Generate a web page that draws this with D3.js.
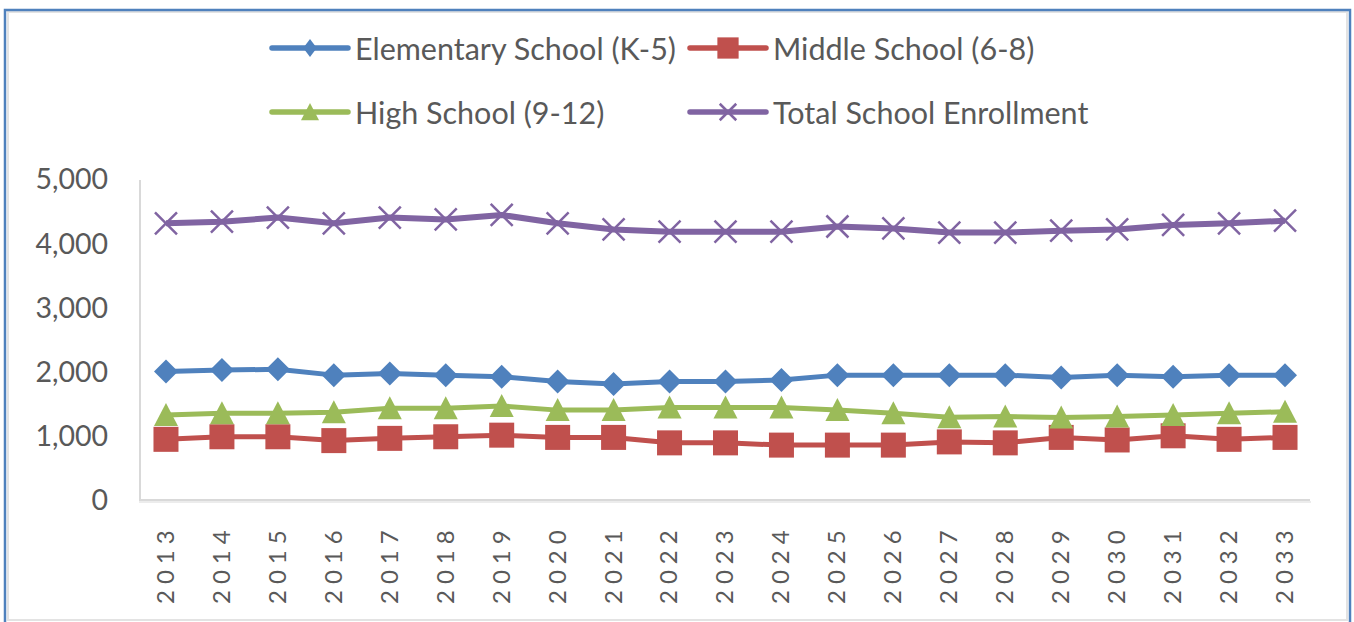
<!DOCTYPE html>
<html>
  <head>
    <meta http-equiv="Content-Type" content="text/html;charset=utf-8"/>
    <script src="https://d3js.org/d3.v7.min.js"></script>
    <style type="text/css">
    body { margin: 0; background: #fff; }
    .tick-label { fill: #595959; font-family: Lato, "Liberation Sans", sans-serif; }
    .legend-label { fill: #595959; font-family: Lato, "Liberation Sans", sans-serif; font-size: 30.5px; }
    </style>
  </head>
  <body>
    <script type="text/javascript">
    var years = ["2013","2014","2015","2016","2017","2018","2019","2020","2021","2022","2023",
                 "2024","2025","2026","2027","2028","2029","2030","2031","2032","2033"];
    var elementary = [2000,2025,2035,1945,1970,1945,1920,1845,1805,1845,1845,1870,1945,1945,1945,1945,1910,1945,1920,1945,1945];
    var middle     = [945,985,985,925,960,985,1010,975,975,890,890,855,855,855,905,890,975,935,1000,945,975];
    var high       = [1325,1350,1350,1365,1430,1430,1465,1400,1400,1440,1440,1440,1400,1350,1290,1300,1285,1300,1325,1350,1375];
    var total      = [4310,4335,4400,4310,4400,4370,4440,4310,4215,4180,4180,4180,4260,4230,4165,4165,4195,4215,4285,4310,4350];
    var yTicks = [0, 1000, 2000, 3000, 4000, 5000];

    var seriesNames = ["Elementary School (K-5)", "Middle School (6-8)", "High School (9-12)", "Total School Enrollment"];
    var seriesValues = [elementary, middle, high, total];
    var seriesColors = ["#4f81bd", "#c0504d", "#9bbb59", "#8064a2"];
    var seriesMarkers = ["diamond", "square", "triangle", "cross"];

    var width = 1354, height = 622;
    var svg = d3.select("body").append("svg")
      .attr("width", width)
      .attr("height", height);

    // outer frame
    svg.append("rect").attr("x", 8).attr("y", 12).attr("width", 1339).attr("height", 608)
      .attr("fill", "none").attr("stroke", "#e3e3e3").attr("stroke-width", 2);
    svg.append("path").attr("d", "M5,622 V10 H1350 V622")
      .attr("fill", "none").attr("stroke", "#4f81bd").attr("stroke-width", 2.5);

    var x = d3.scalePoint().domain(years).range([138, 1313]).padding(0.5);
    var y = d3.scaleLinear().domain([0, 5000]).range([500, 179]);

    // axis lines
    svg.append("line").attr("x1", 140).attr("x2", 140).attr("y1", 180).attr("y2", 501)
      .attr("stroke", "#d9d9d9").attr("stroke-width", 2);
    svg.append("line").attr("x1", 139).attr("x2", 1311).attr("y1", 502).attr("y2", 502)
      .attr("stroke", "#ececec").attr("stroke-width", 2);
    svg.append("line").attr("x1", 139).attr("x2", 1310).attr("y1", 500).attr("y2", 500)
      .attr("stroke", "#d9d9d9").attr("stroke-width", 2);

    // y axis labels
    var yAxis = d3.axisLeft(y).tickValues(yTicks).tickSize(0).tickPadding(0)
      .tickFormat(d3.format(","));
    var gy = svg.append("g").attr("transform", "translate(108,0)").call(yAxis);
    gy.select(".domain").remove();
    gy.selectAll("text").attr("class", "tick-label").style("font-size", "28.5px").attr("dy", "0.35em");

    // x axis labels, rotated with wide spacing
    var xAxis = d3.axisBottom(x).tickSize(0);
    var gx = svg.append("g").attr("transform", "translate(0,500)").call(xAxis);
    gx.select(".domain").remove();
    gx.selectAll("text")
      .attr("class", "tick-label")
      .style("font-size", "24px")
      .style("letter-spacing", "6px")
      .attr("text-anchor", "start")
      .attr("dy", "0.35em")
      .attr("y", 0)
      .attr("transform", "translate(-1,104) rotate(-90)");

    function marker(g, type, color, cx, cy, k) {
      k = k || 1;
      if (type === "diamond") {
        var w = 12 * k * (k < 1 ? 0.75 : 1);
        g.append("path")
          .attr("d", "M" + cx + "," + (cy - 12 * k) + " L" + (cx + w) + "," + cy + " L" + cx + "," + (cy + 12 * k) + " L" + (cx - w) + "," + cy + "Z")
          .attr("fill", color);
      } else if (type === "square") {
        var h = 12.5 * k;
        g.append("rect").attr("x", cx - h).attr("y", cy - h).attr("width", 2 * h).attr("height", 2 * h)
          .attr("fill", color);
      } else if (type === "triangle") {
        g.append("path")
          .attr("d", "M" + cx + "," + (cy - 12 * k) + " L" + (cx + 12 * k) + "," + (cy + 11 * k) + " L" + (cx - 12 * k) + "," + (cy + 11 * k) + "Z")
          .attr("fill", color);
      } else {
        var r = 11 * k;
        g.append("path")
          .attr("d", "M" + (cx - r) + "," + (cy - r) + " L" + (cx + r) + "," + (cy + r) + " M" + (cx + r) + "," + (cy - r) + " L" + (cx - r) + "," + (cy + r))
          .attr("stroke", color).attr("stroke-width", 2.5).attr("fill", "none");
      }
    }

    var line = d3.line()
      .x(function(d, i) { return x(years[i]); })
      .y(function(d) { return y(d); });

    seriesValues.forEach(function(vals, s) {
      var g = svg.append("g");
      g.append("path").datum(vals)
        .attr("d", line)
        .attr("fill", "none")
        .attr("stroke", seriesColors[s])
        .attr("stroke-width", s === 3 ? 6 : 5)
        .attr("stroke-linejoin", "round");
      vals.forEach(function(v, i) {
        marker(g, seriesMarkers[s], seriesColors[s], x(years[i]), y(v));
      });
    });

    // legend
    var legendPos = [[272, 48], [690, 48], [272, 112], [690, 112]];
    seriesNames.forEach(function(name, s) {
      var lx = legendPos[s][0], ly = legendPos[s][1];
      var g = svg.append("g");
      g.append("line").attr("x1", lx).attr("x2", lx + 76).attr("y1", ly).attr("y2", ly)
        .attr("stroke", seriesColors[s]).attr("stroke-width", 5.5).attr("stroke-linecap", "round");
      marker(g, seriesMarkers[s], seriesColors[s], lx + 38, ly, s === 1 ? 0.85 : 0.75);
      g.append("text").attr("class", "legend-label")
        .attr("x", lx + 83).attr("y", ly + 1).attr("dy", "0.35em")
        .text(name);
    });
    </script>
  </body>
</html>
